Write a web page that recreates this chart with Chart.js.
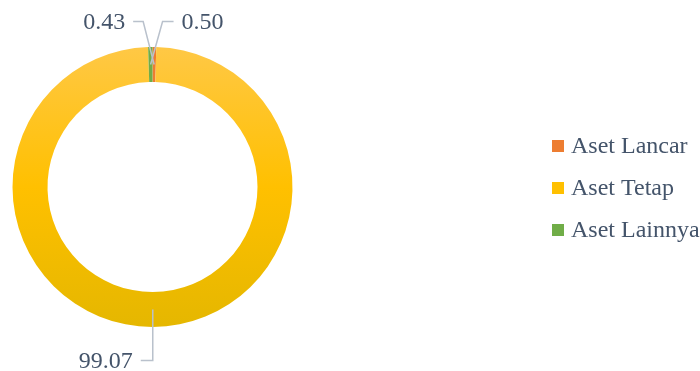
<!DOCTYPE html>
<html>
<head>
<meta charset="utf-8">
<script src="https://cdn.jsdelivr.net/npm/chart.js@4/dist/chart.umd.min.js"></script>
<style>
  html, body { margin: 0; padding: 0; background: #fff; }
  #wrap { width: 700px; height: 371px; }
</style>
</head>
<body>
<div id="wrap"><canvas id="chart"></canvas></div>
<script>
const categories = ['Aset Lancar', 'Aset Tetap', 'Aset Lainnya'];
const values = [0.43, 99.07, 0.50];
const valueLabels = ['0.43', '99.07', '0.50'];

const sliceColors = ['#ED7D31', '#FFC000', '#70AD47'];
const textColor = '#44546A';
const leaderColor = '#B9C1CC';
const font = '24px "Liberation Serif", "Times New Roman", serif';

// where each label sits relative to its slice anchor (elbow dx, dy, horizontal run)
const labelOffsets = [
  { dx: -11, dy: -43, run: -10 },
  { dx: 0, dy: 51, run: -12 },
  { dx: 12, dy: -43, run: 11 }
];

function fillFor(ctx) {
  const i = ctx.dataIndex;
  const area = ctx.chart.chartArea;
  if (!area || i !== 1) return sliceColors[i];
  const g = ctx.chart.ctx.createLinearGradient(0, area.top, 0, area.bottom);
  g.addColorStop(0, '#FFC845');
  g.addColorStop(0.5, '#FFC000');
  g.addColorStop(1, '#E5B700');
  return g;
}

const labelsAndLegend = {
  id: 'labelsAndLegend',
  afterDraw(chart) {
    const c = chart.ctx;
    const meta = chart.getDatasetMeta(0);
    c.save();
    c.font = font;
    c.textBaseline = 'middle';

    meta.data.forEach((arc, i) => {
      const p = arc.getProps(['x', 'y', 'startAngle', 'endAngle', 'innerRadius', 'outerRadius'], true);
      const mid = (p.startAngle + p.endAngle) / 2;
      const r = (p.innerRadius + p.outerRadius) / 2;
      const ax = p.x + Math.cos(mid) * r;
      const ay = p.y + Math.sin(mid) * r;
      const o = labelOffsets[i];
      const ex = ax + o.dx, ey = ay + o.dy;
      const hx = ex + o.run;
      c.strokeStyle = leaderColor;
      c.lineWidth = 1.5;
      c.beginPath();
      c.moveTo(ax, ay);
      c.lineTo(ex, ey);
      c.lineTo(hx, ey);
      c.stroke();
      c.fillStyle = textColor;
      c.textAlign = o.run < 0 ? 'right' : 'left';
      c.fillText(valueLabels[i], hx + (o.run < 0 ? -8 : 8), ey + 1);
    });

    // legend
    const lx = 552, ly = 146, gap = 42;
    categories.forEach((name, i) => {
      const y = ly + i * gap;
      c.fillStyle = sliceColors[i];
      c.fillRect(lx, y - 6, 12, 12);
      c.fillStyle = textColor;
      c.textAlign = 'left';
      c.fillText(name, lx + 19, y + 1);
    });
    c.restore();
  }
};

new Chart(document.getElementById('chart'), {
  type: 'doughnut',
  data: {
    labels: categories,
    datasets: [{
      data: values,
      backgroundColor: fillFor,
      borderWidth: 0
    }]
  },
  options: {
    responsive: true,
    maintainAspectRatio: false,
    animation: false,
    cutout: '75%',
    layout: { padding: { left: 12, right: 407, top: 47, bottom: 44 } },
    plugins: {
      legend: { display: false },
      tooltip: { enabled: false }
    }
  },
  plugins: [labelsAndLegend]
});
</script>
</body>
</html>
